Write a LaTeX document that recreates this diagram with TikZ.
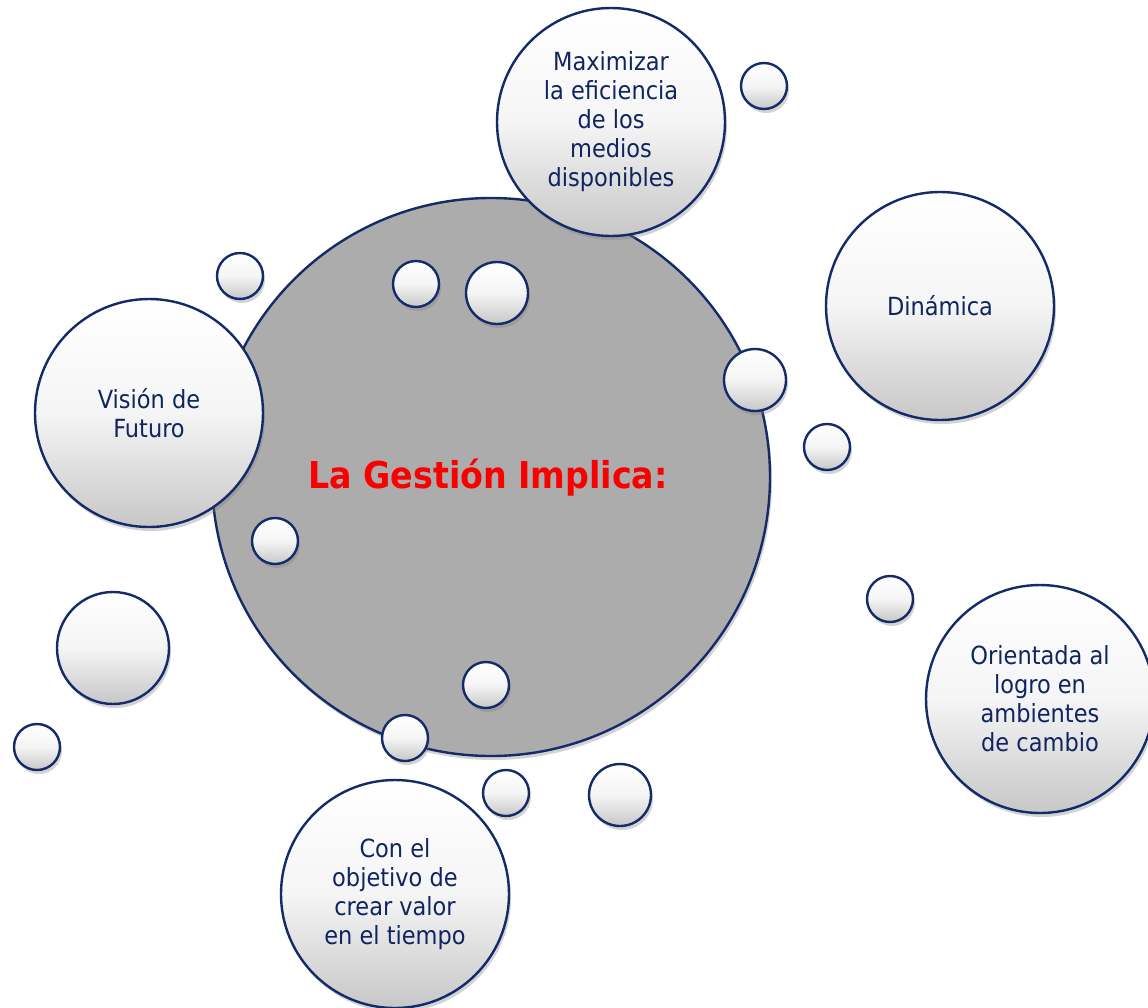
\documentclass[tikz,border=0pt]{standalone}
\usepackage{fontspec}
\setmainfont{DejaVu Sans Condensed}
\usetikzlibrary{shadows}

\definecolor{rim}{RGB}{20,42,105}
\definecolor{ink}{RGB}{16,36,96}
\definecolor{hub}{RGB}{172,172,172}
\definecolor{title}{RGB}{250,0,0}

\tikzset{
  bubble/.style={circle, draw=rim, line width=2.4pt, inner sep=0pt,
    top color=white, bottom color=black!22, middle color=white!96!black,
    drop shadow={shadow xshift=2pt, shadow yshift=-4pt, opacity=.35}},
  idea/.style={bubble, minimum size=228pt, text=ink, align=center,
    font=\fontsize{25}{29}\selectfont},
  dot/.style={bubble, minimum size=46pt},
  midot/.style={bubble, minimum size=62pt},
  bigdot/.style={bubble, minimum size=112pt}
}

\begin{document}
\begin{tikzpicture}[x=1pt,y=-1pt]
\useasboundingbox (0,0) rectangle (1148,1007);

% central hub
\node[circle, draw=rim, line width=2.4pt, fill=hub, minimum size=558pt, inner sep=0pt,
  drop shadow={shadow xshift=2pt, shadow yshift=-4pt, opacity=.35}] (hub) at (491,477) {};
\node[text=title, font=\bfseries\fontsize{37}{42}\selectfont] (head) at (488,478) {La Gestión Implica:};

% main ideas
\node[idea] (maxi) at (611,122) {Maximizar\\la eficiencia\\de los\\medios\\disponibles};
\node[idea] (dina) at (940,306) {Dinámica};
\node[idea] (vision) at (149,413) {Visión de\\Futuro};
\node[idea] (orient) at (1040,699) {Orientada al\\logro en\\ambientes\\de cambio};
\node[idea] (valor) at (395,894) {Con el\\objetivo de\\crear valor\\en el tiempo};

% small decorative bubbles
\node[dot] (d1) at (764,86) {};
\node[dot] (d2) at (240,276) {};
\node[dot] (d3) at (416,284) {};
\node[midot] (d4) at (497,293) {};
\node[midot] (d5) at (755,380) {};
\node[dot] (d6) at (827,447) {};
\node[dot] (d7) at (275,541) {};
\node[dot] (d8) at (890,599) {};
\node[bigdot] (d9) at (113,648) {};
\node[dot] (d10) at (37,747) {};
\node[dot] (d11) at (486,685) {};
\node[dot] (d12) at (405,738) {};
\node[dot] (d13) at (506,793) {};
\node[midot] (d14) at (620,795) {};
\end{tikzpicture}
\end{document}
